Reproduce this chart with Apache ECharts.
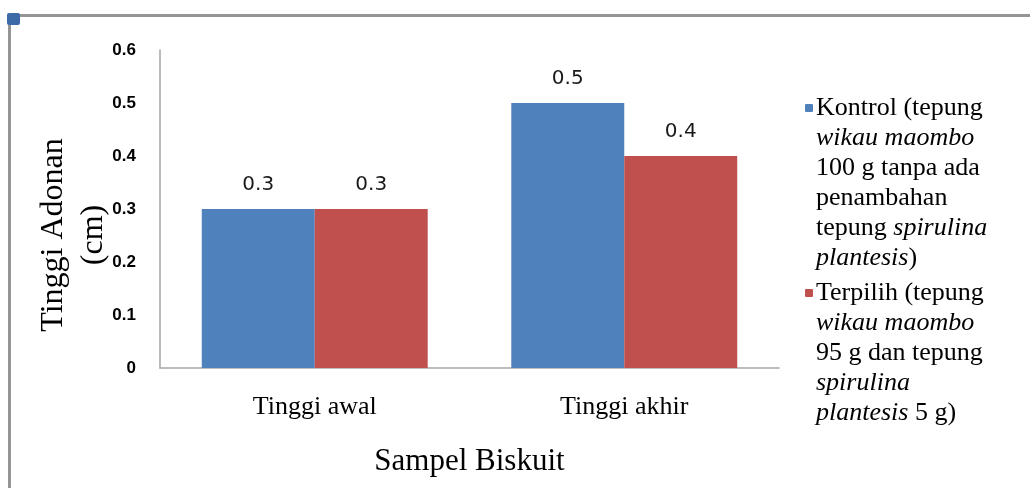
<!DOCTYPE html>
<html>
<head>
<meta charset="utf-8">
<script src="https://cdn.jsdelivr.net/npm/echarts@6/dist/echarts.min.js"></script>
<style>
    html, body { margin: 0; padding: 0; background: #fff; }
    #chart { width: 1030px; height: 488px; }
</style>
</head>
<body>
<div id="chart"></div>
<script>
// data
const categories = ['Tinggi awal', 'Tinggi akhir'];
const kontrol = [0.3, 0.5];
const terpilih = [0.3, 0.4];
const seriesNames = ['Kontrol', 'Terpilih'];

// legend text (rich), one entry per series
const legendText = {
    Kontrol: [
        '{sq0|}{g|}{t|Kontrol (tepung}',
        '{p|}{i|wikau maombo}',
        '{p|}{t|100 g tanpa ada}',
        '{p|}{t|penambahan}',
        '{p|}{t|tepung }{i|spirulina}',
        '{p|}{i|plantesis}{t|)}'
    ].join('\n'),
    Terpilih: [
        '{sq1|}{g|}{t|Terpilih (tepung}',
        '{p|}{i|wikau maombo}',
        '{p|}{t|95 g dan tepung}',
        '{p|}{i|spirulina}',
        '{p|}{i|plantesis}{t| 5 g)}'
    ].join('\n')
};

const serif = '"Liberation Serif", "DejaVu Serif", serif';
const lh = 30;
const fs = 26;

const valueLabel = {
    show: true,
    position: 'top',
    distance: 14,
    fontFamily: '"DejaVu Sans", sans-serif',
    fontSize: 20,
    color: '#1a1a1a'
};

const option = {
    backgroundColor: '#fff',
    animation: false,
    color: ['#4F81BD', '#C0504D'],
    grid: {
        left: 160,
        right: 251,
        top: 50,
        bottom: 120
    },
    legend: {
        orient: 'vertical',
        left: 795,
        top: 88,
        icon: 'rect',
        itemWidth: 0,
        itemHeight: 0,
        itemGap: 5,
        selectedMode: false,
        data: seriesNames,
        formatter: (name) => legendText[name],
        textStyle: {
            color: '#000',
            fontFamily: serif,
            fontSize: fs,
            lineHeight: lh,
            rich: {
                t: { fontFamily: serif, fontSize: fs, lineHeight: lh, color: '#000' },
                i: { fontFamily: serif, fontSize: fs, lineHeight: lh, color: '#000', fontStyle: 'italic' },
                sq0: { width: 8, height: 8, backgroundColor: '#4F81BD', borderRadius: 1, verticalAlign: 'middle' },
                sq1: { width: 8, height: 8, backgroundColor: '#C0504D', borderRadius: 1, verticalAlign: 'middle' },
                g: { width: 3, height: 8 },
                p: { width: 11, height: 8 }
            }
        }
    },
    xAxis: {
        type: 'category',
        data: categories,
        name: 'Sampel Biskuit',
        nameLocation: 'middle',
        nameGap: 78,
        nameTextStyle: {
            fontFamily: serif,
            fontSize: 31,
            color: '#000'
        },
        axisLine: { lineStyle: { color: '#A6A6A6', width: 1.5 } },
        axisTick: { show: false },
        axisLabel: {
            margin: 26,
            fontFamily: serif,
            fontSize: 26,
            color: '#000'
        }
    },
    yAxis: {
        type: 'value',
        min: 0,
        max: 0.6,
        interval: 0.1,
        name: 'Tinggi Adonan\n(cm)',
        nameLocation: 'middle',
        nameRotate: 90,
        nameGap: 46,
        nameMoveOverlap: false,
        nameTextStyle: {
            fontFamily: serif,
            fontSize: 32,
            lineHeight: 40,
            color: '#000',
            padding: [0, 52, 0, 0]
        },
        axisLine: { show: true, lineStyle: { color: '#A6A6A6', width: 1.5 } },
        axisTick: { show: false },
        splitLine: { show: false },
        axisLabel: {
            margin: 24,
            fontFamily: '"Liberation Sans", Arial, sans-serif',
            fontWeight: 'bold',
            fontSize: 17,
            color: '#000'
        }
    },
    series: [
        {
            name: seriesNames[0],
            type: 'bar',
            data: kontrol,
            barGap: '0%',
            barCategoryGap: '27%',
            label: valueLabel
        },
        {
            name: seriesNames[1],
            type: 'bar',
            data: terpilih,
            barGap: '0%',
            barCategoryGap: '27%',
            label: valueLabel
        }
    ],
    // chart frame, top and left border with the corner handle
    graphic: [
        { type: 'line', shape: { x1: 9, y1: 15.5, x2: 1030, y2: 15.5 }, style: { stroke: '#959595', lineWidth: 3 } },
        { type: 'line', shape: { x1: 9.5, y1: 15, x2: 9.5, y2: 488 }, style: { stroke: '#959595', lineWidth: 3 } },
        { type: 'rect', shape: { x: 7, y: 13, width: 13, height: 12, r: 2 }, style: { fill: '#3D6BA8' } }
    ]
};

const myChart = echarts.init(document.getElementById('chart'));
myChart.setOption(option);
</script>
</body>
</html>
